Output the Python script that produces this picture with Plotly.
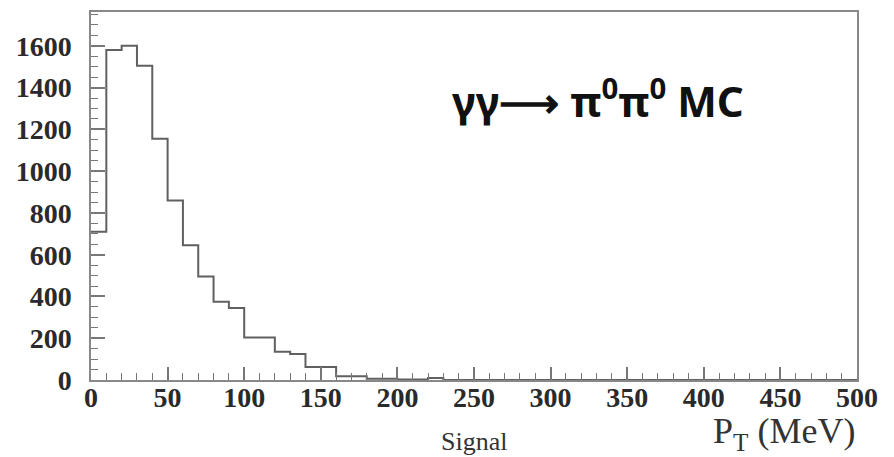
import numpy as np
import plotly.graph_objects as go

# Histogram data: P_T (MeV), 10 MeV bins from 0 to 500
bin_width = 10
counts = [710, 1580, 1600, 1505, 1155, 860, 645, 495, 375, 345,
          203, 203, 135, 124, 62, 62, 18, 18, 6, 6,
          2, 2, 10, 0, 0, 0, 0, 0, 0, 0,
          0, 0, 0, 0, 0, 0, 0, 0, 0, 0,
          0, 0, 0, 0, 0, 0, 0, 0, 0, 0]
edges = list(np.arange(0, bin_width * len(counts) + bin_width, bin_width))

x_ticks = [0, 50, 100, 150, 200, 250, 300, 350, 400, 450, 500]
y_ticks = [0, 200, 400, 600, 800, 1000, 1200, 1400, 1600]

fig = go.Figure()
fig.add_trace(go.Scatter(
    x=edges, y=counts + [counts[-1]],
    mode="lines", line=dict(shape="hv", color="#606060", width=2),
    showlegend=False, hoverinfo="skip"))

tickfont = dict(family="Liberation Serif", size=28, color="#2a2a2a", weight="bold")
fig.update_xaxes(
    range=[0, 500], tickvals=x_ticks, ticktext=[str(v) for v in x_ticks],
    ticks="inside", ticklen=13, tickwidth=1.5, tickcolor="#777",
    minor=dict(ticks="inside", ticklen=7, dtick=10, tickwidth=1.2, tickcolor="#777"),
    showline=True, linecolor="#888", linewidth=1.5, mirror=True,
    showgrid=False, zeroline=False, tickfont=tickfont, ticklabelstandoff=-8)
fig.update_yaxes(
    range=[0, 1762], tickvals=y_ticks, ticktext=[str(v) for v in y_ticks],
    ticks="inside", ticklen=14, tickwidth=1.5, tickcolor="#777",
    minor=dict(ticks="inside", ticklen=7, dtick=50, tickwidth=1.2, tickcolor="#777"),
    showline=True, linecolor="#888", linewidth=1.5, mirror=True,
    showgrid=False, zeroline=False, tickfont=tickfont, ticklabelstandoff=12)

fig.add_annotation(
    x=331, y=1350, xref="x", yref="y", showarrow=False,
    text="γγ⟶ π<sup>0</sup>π<sup>0</sup> MC",
    font=dict(family="Noto Sans", size=42, color="#111", weight="bold"),
    xanchor="center", yanchor="middle")
fig.add_annotation(
    x=1.0, y=-0.145, xref="paper", yref="paper", showarrow=False,
    text="P<sub>T</sub> (MeV)",
    font=dict(family="Liberation Serif", size=36, color="#333"),
    xanchor="right", yanchor="middle")
fig.add_annotation(
    x=0.5, y=-0.168, xref="paper", yref="paper", showarrow=False,
    text="Signal",
    font=dict(family="Liberation Serif", size=26, color="#333"),
    xanchor="center", yanchor="middle")

fig.update_layout(
    width=894, height=457,
    margin=dict(l=91, r=37, t=10, b=77),
    paper_bgcolor="white", plot_bgcolor="white")

fig.write_html("out.html")
